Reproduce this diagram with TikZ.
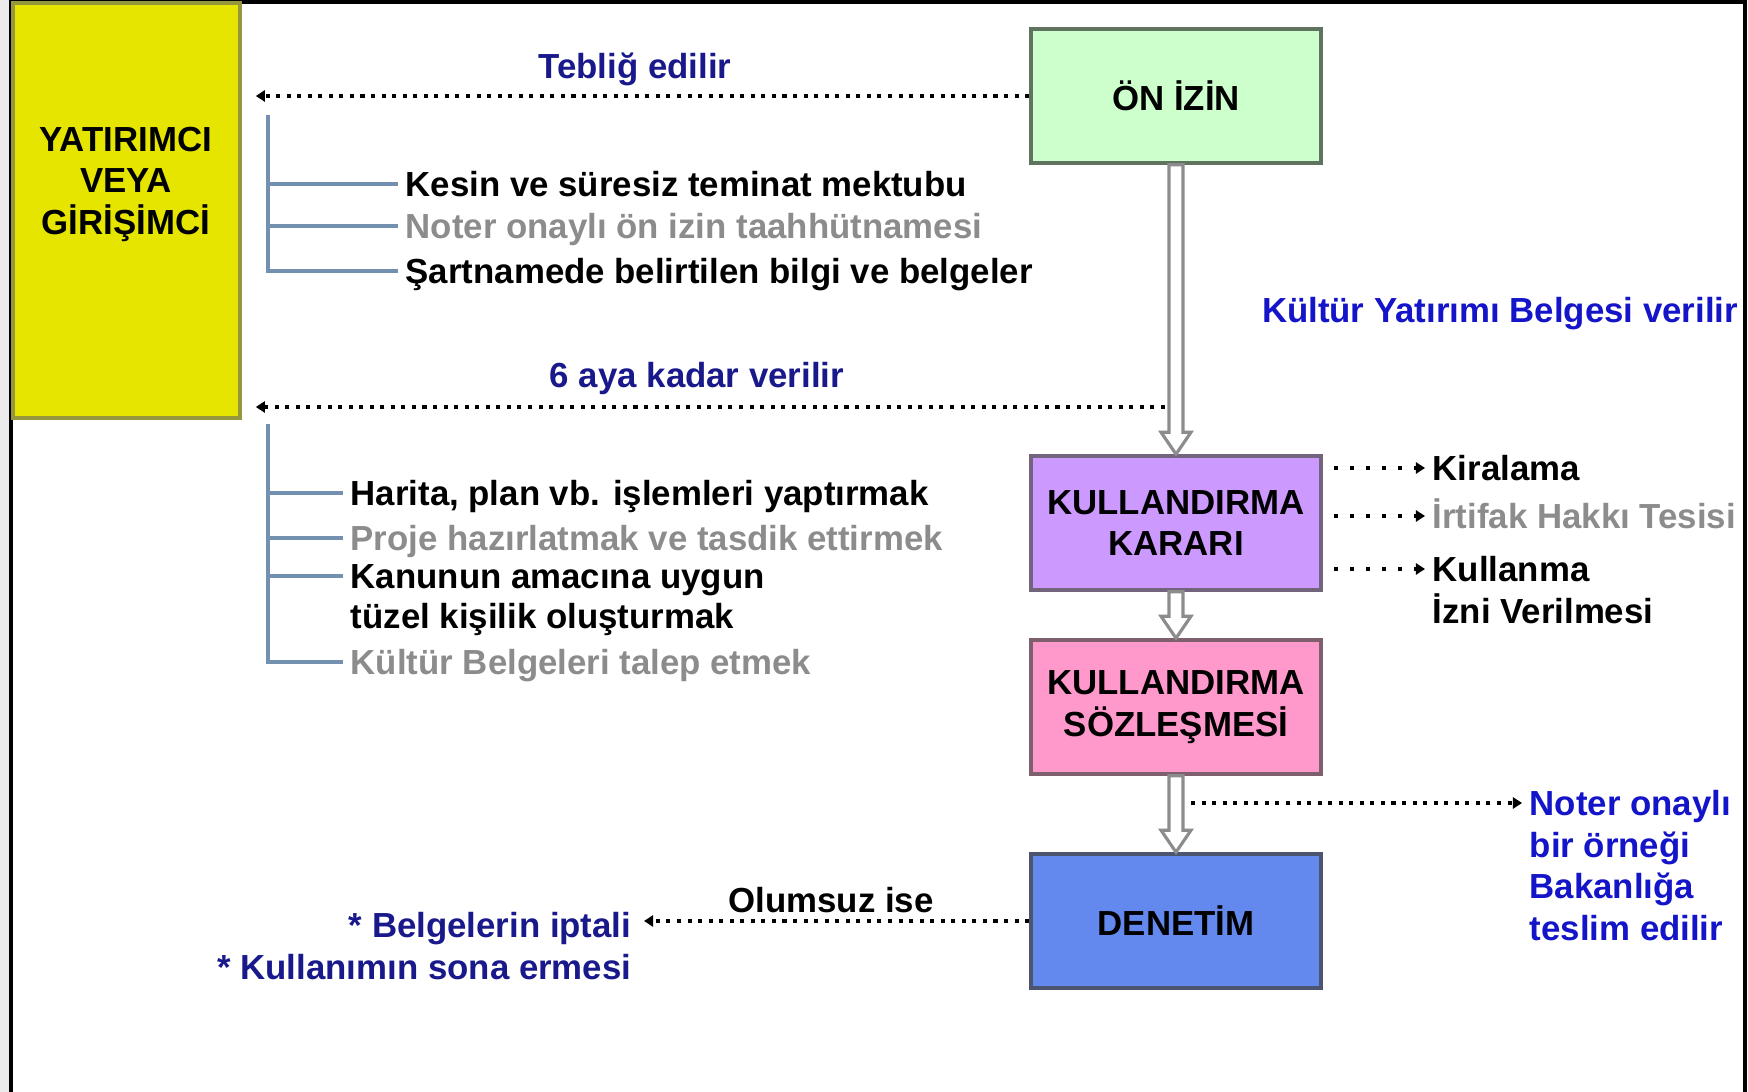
\documentclass[tikz,border=0pt]{standalone}
\usepackage{fontspec}
\setmainfont{Liberation Sans}
\usetikzlibrary{calc,positioning,arrows.meta}

\definecolor{yatyellow}{RGB}{229,229,0}
\definecolor{yatedge}{RGB}{150,150,60}
\definecolor{izingreen}{RGB}{204,255,204}
\definecolor{izinedge}{RGB}{95,115,95}
\definecolor{kararlila}{RGB}{204,153,255}
\definecolor{kararedge}{RGB}{115,100,125}
\definecolor{sozpink}{RGB}{255,153,204}
\definecolor{sozedge}{RGB}{125,95,110}
\definecolor{denblue}{RGB}{99,136,238}
\definecolor{denedge}{RGB}{75,85,110}
\definecolor{navytext}{RGB}{25,25,140}
\definecolor{bluetext}{RGB}{20,20,200}
\definecolor{graytext}{RGB}{140,140,140}
\definecolor{brackblue}{RGB}{115,144,176}
\definecolor{arrowgray}{RGB}{140,140,140}

\tikzset{
  box/.style={draw, line width=1pt, minimum width=2.9cm, minimum height=1.34cm, align=center},
  investor/.style={draw=yatedge, fill=yatyellow, line width=1pt, minimum width=2.27cm, minimum height=4.15cm},
  item/.style={anchor=west, inner xsep=2pt, inner ysep=0pt, text height=9pt, text depth=2pt},
  dotarrow/.style={line width=1.15pt, dash pattern=on 1.15pt off 1.85pt, -{Triangle[length=2.6pt,width=3.2pt]}},
  sparse/.style={dash pattern=on 1.15pt off 3.4pt},
  brack/.style={draw=brackblue, line width=1pt},
  hollow/.style={draw=arrowgray, line width=0.9pt, fill=white, line join=miter},
}

% hollow block arrow between two boxes
\newcommand\hollowarrow[2]{%
  \draw[hollow] ($(#1.south)+(-7,0)$) -- ($(#2.north)+(-7,-22)$)
    -- ($(#2.north)+(-15,-22)$) -- (#2.north) -- ($(#2.north)+(15,-22)$)
    -- ($(#2.north)+(7,-22)$) -- ($(#1.south)+(7,0)$) -- cycle;}

\begin{document}
\begin{tikzpicture}[x=0.01cm, y=-0.01cm, font=\fontsize{9.9}{11.8}\selectfont\bfseries]
\useasboundingbox (0,0) rectangle (1748,1092);
% frame
\fill[black!8] (0,0) rectangle (11,1092);
\draw[line width=1pt] (11,1092) -- (11,2) -- (1745,2) -- (1745,1092);

% investor
\node (yat) [investor] at (126.5,210.5) {};
\node (yattext) [align=center] at (126,184) {YATIRIMCI\\VEYA\\GİRİŞİMCİ};

% main boxes
\node (onizin) [box, fill=izingreen, draw=izinedge] at (1176,96) {ÖN İZİN};
\node (karar) [box, fill=kararlila, draw=kararedge] at (1176,523) {KULLANDIRMA\\KARARI};
\node (sozlesme) [box, fill=sozpink, draw=sozedge] at (1176,707) {KULLANDIRMA\\SÖZLEŞMESİ};
\node (denetim) [box, fill=denblue, draw=denedge] at (1176,921) {DENETİM};

\hollowarrow{onizin}{karar}
\hollowarrow{karar}{sozlesme}
\hollowarrow{sozlesme}{denetim}

% teblig
\node (teblig) [text=navytext] at (635,69) {Tebliğ edilir};
\draw[dotarrow, shorten >=0.14cm] (onizin.west) -- (onizin.west -| yat.east);

% first list
\node (kesin) [item] at (398,184) {Kesin ve süresiz teminat mektubu};
\node (taahhut) [item, text=graytext] at (398,226) {Noter onaylı ön izin taahhütnamesi};
\node (sart) [item] at (398,271) {Şartnamede belirtilen bilgi ve belgeler};
\coordinate (br1) at (268,115);
\draw[brack] (br1) |- (sart.west);
\draw[brack] (br1 |- kesin.west) -- (kesin.west);
\draw[brack] (br1 |- taahhut.west) -- (taahhut.west);

\node (kyb) [text=bluetext] at (1500,314) {Kültür Yatırımı Belgesi verilir};

% 6 ay
\node (altiay) [text=navytext] at (697,379) {6 aya kadar verilir};
\coordinate (aystart) at (1165,407);
\draw[dotarrow, shorten >=0.14cm] (aystart) -- (aystart -| yat.east);

% second list
\node (harita) [item] at (343,493) {Harita, plan vb. işlemleri yaptırmak};
\node (proje) [item, text=graytext] at (343,538) {Proje hazırlatmak ve tasdik ettirmek};
\node (kanun) [item] at (343,576) {Kanunun amacına uygun};
\node (tuzel) [item] at (343,616) {tüzel kişilik oluşturmak};
\node (kbelge) [item, text=graytext] at (343,662) {Kültür Belgeleri talep etmek};
\coordinate (br2) at (268,424);
\draw[brack] (br2) |- (kbelge.west);
\foreach \n in {harita,proje,kanun}
  \draw[brack] (br2 |- \n.west) -- (\n.west);

% karar outputs
\node (kira) [item] at (1425,468) {Kiralama};
\node (irtifak) [item, text=graytext] at (1425,516) {İrtifak Hakkı Tesisi};
\node (kullanma) [item] at (1425,569) {Kullanma};
\node (izni) [item] at (1425,611) {İzni Verilmesi};
\foreach \n in {kira,irtifak,kullanma}
  \draw[dotarrow, sparse, shorten <=0.11cm] (karar.east |- \n.west) -- (\n.west);

% noter
\node (noter) [text=bluetext, align=left, anchor=north west, inner xsep=2pt, inner ysep=0pt] at (1522,790)
  {Noter onaylı\\bir örneği\\Bakanlığa\\teslim edilir};
\coordinate (notstart) at (1191,803);
\draw[dotarrow] (notstart) -- (notstart -| noter.west);

% denetim
\node (olumsuz) at (831,900) {Olumsuz ise};
\node (iptal) [text=navytext, align=right, anchor=north east, inner xsep=0pt, inner ysep=0pt] at (632,912)
  {* Belgelerin iptali\\* Kullanımın sona ermesi};
\draw[dotarrow, shorten >=0.12cm] (denetim.west) -- (denetim.west -| iptal.east);
\end{tikzpicture}
\end{document}
